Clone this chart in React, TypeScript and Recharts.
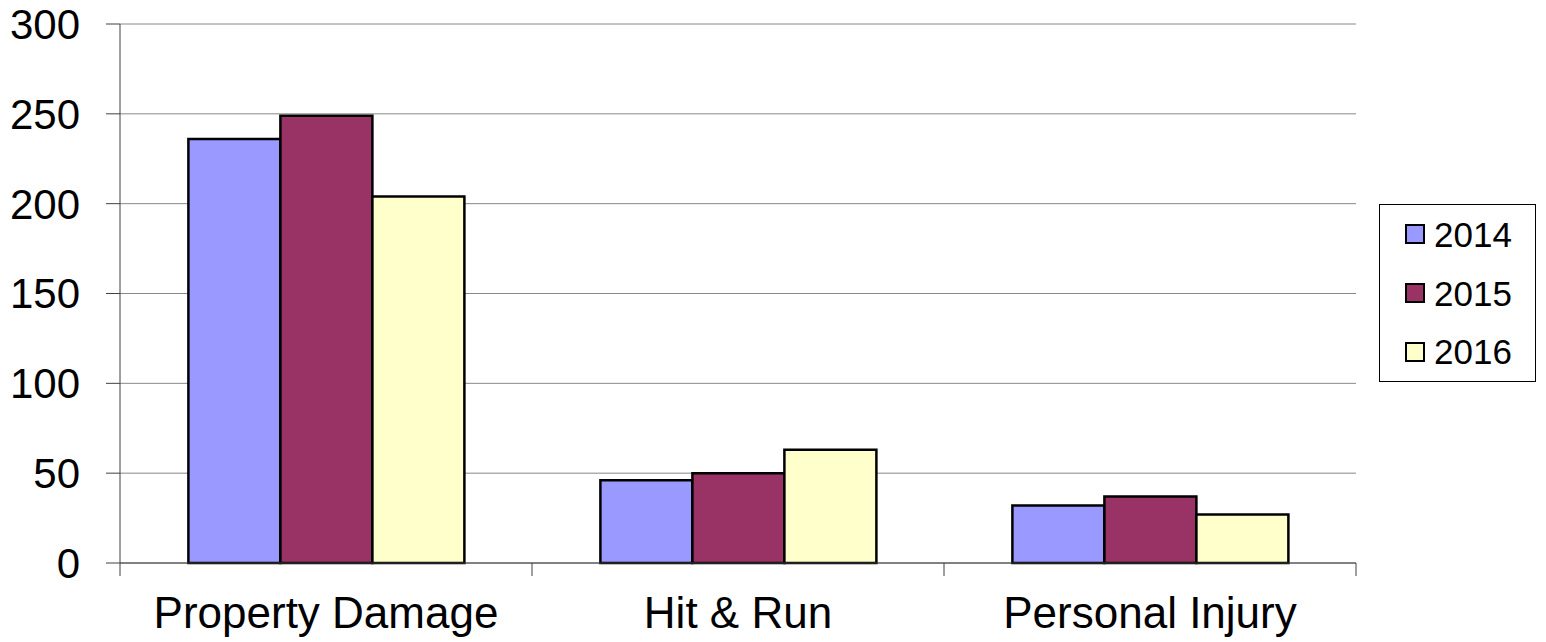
import { BarChart, Bar, XAxis, YAxis, CartesianGrid, Legend } from "recharts";

const categories = ["Property Damage", "Hit & Run", "Personal Injury"];
const values2014 = [236, 46, 32];
const values2015 = [249, 50, 37];
const values2016 = [204, 63, 27];
const years = ["2014", "2015", "2016"];
const colors = ["#9999FF", "#993366", "#FFFFCC"];
const yTicks = [0, 50, 100, 150, 200, 250, 300];

const WIDTH = 1546;
const HEIGHT = 642;
const MARGIN = { top: 24, right: 190, left: 0, bottom: 0 };
const Y_AXIS_W = 120;
const X_AXIS_H = 79;
const PLOT_BOTTOM = HEIGHT - X_AXIS_H;
const BAND = (WIDTH - Y_AXIS_W - MARGIN.right) / categories.length;
const AXIS_COLOR = "#404040";
const GRID_COLOR = "#888888";
const FONT = "'Liberation Sans', Arial, sans-serif";

const data = categories.map((name, i) => ({
  name,
  "2014": values2014[i],
  "2015": values2015[i],
  "2016": values2016[i],
}));

// category labels plus the tick marks that sit on the band edges
function CategoryTick(props: any) {
  const { x, payload, index } = props;
  const half = BAND / 2;
  return (
    <g>
      <line x1={x - half} x2={x - half} y1={PLOT_BOTTOM} y2={PLOT_BOTTOM + 13} stroke={AXIS_COLOR} />
      {index === categories.length - 1 && (
        <line x1={x + half} x2={x + half} y1={PLOT_BOTTOM} y2={PLOT_BOTTOM + 13} stroke={AXIS_COLOR} />
      )}
      <text x={x} y={PLOT_BOTTOM + 65} textAnchor="middle" fontSize={44} fill="#000">
        {payload.value}
      </text>
    </g>
  );
}

function LegendBox() {
  return (
    <div
      style={{
        width: 157,
        height: 178,
        boxSizing: "border-box",
        border: "1px solid #000",
        background: "#fff",
        display: "flex",
        flexDirection: "column",
        justifyContent: "center",
      }}
    >
      {years.map((y, i) => (
        <div key={y} style={{ height: 59, display: "flex", alignItems: "center", paddingLeft: 25 }}>
          <span
            style={{
              width: 20,
              height: 20,
              boxSizing: "border-box",
              border: "2px solid #000",
              background: colors[i],
              marginRight: 9,
            }}
          />
          <span style={{ fontSize: 35, color: "#000", lineHeight: 1 }}>{y}</span>
        </div>
      ))}
    </div>
  );
}

export default function App() {
  return (
    <div style={{ position: "absolute", left: 0, top: 0, fontFamily: FONT }}>
      <BarChart
        width={WIDTH}
        height={HEIGHT}
        data={data}
        margin={MARGIN}
        barCategoryGap="16.6%"
        barGap={0}
      >
        <CartesianGrid vertical={false} stroke={GRID_COLOR} />
        <XAxis
          dataKey="name"
          height={X_AXIS_H}
          interval={0}
          tickLine={false}
          axisLine={{ stroke: AXIS_COLOR }}
          tick={CategoryTick}
        />
        <YAxis
          width={Y_AXIS_W}
          domain={[0, 300]}
          ticks={yTicks}
          interval={0}
          tickSize={14}
          tickMargin={26}
          axisLine={{ stroke: AXIS_COLOR }}
          tickLine={{ stroke: AXIS_COLOR }}
          tick={{ fontSize: 42, fill: "#000" }}
        />
        <Legend
          layout="horizontal"
          verticalAlign="middle"
          align="center"
          wrapperStyle={{ left: 1379, top: 204, width: 157, height: 178 }}
          content={() => <LegendBox />}
        />
        {years.map((y, i) => (
          <Bar
            key={y}
            dataKey={y}
            fill={colors[i]}
            stroke="#000"
            strokeWidth={2.5}
            isAnimationActive={false}
          />
        ))}
      </BarChart>
    </div>
  );
}
